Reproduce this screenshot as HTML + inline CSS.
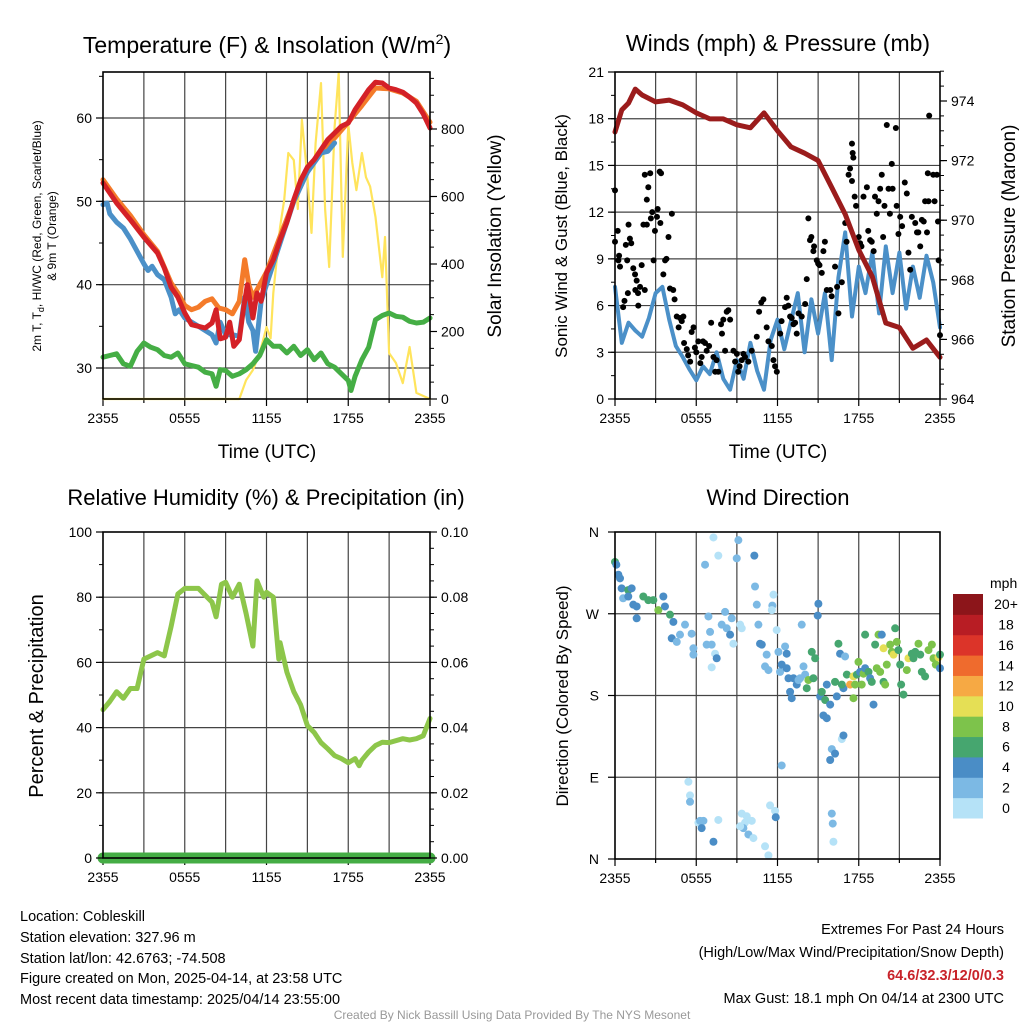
<!DOCTYPE html>
<html><head><meta charset="utf-8"><style>
html,body{margin:0;padding:0;background:#fff;}
svg{display:block;font-family:"Liberation Sans",Arial,sans-serif;}
</style></head><body>
<svg id="chart" width="1024" height="1024" viewBox="0 0 1024 1024" xmlns="http://www.w3.org/2000/svg">
<g id="p1"></g>
<g id="p2"></g>
<g id="p3"></g>
<g id="p4"></g>
<g id="txt">
<text x="267" y="53" font-size="23" text-anchor="middle">Temperature (F) &amp; Insolation (W/m<tspan dy="-9" font-size="14">2</tspan><tspan dy="9">)</tspan></text>
<text x="778" y="51" font-size="23" text-anchor="middle">Winds (mph) &amp; Pressure (mb)</text>
<text x="266" y="505" font-size="22" text-anchor="middle">Relative Humidity (%) &amp; Precipitation (in)</text>
<text x="778" y="505" font-size="22" text-anchor="middle">Wind Direction</text>
<text x="267" y="458" font-size="19" text-anchor="middle">Time (UTC)</text>
<text x="778" y="458" font-size="19" text-anchor="middle">Time (UTC)</text>
<text transform="translate(41,236) rotate(-90)" font-size="12" text-anchor="middle">2m T, T<tspan dy="3" font-size="9">d</tspan><tspan dy="-3">, HI/WC (Red, Green, Scarlet/Blue)</tspan></text>
<text transform="translate(56,236) rotate(-90)" font-size="12" text-anchor="middle">&amp; 9m T (Orange)</text>
<text transform="translate(501,236) rotate(-90)" font-size="19" text-anchor="middle">Solar Insolation (Yellow)</text>
<text transform="translate(567,236) rotate(-90)" font-size="17" text-anchor="middle">Sonic Wind &amp; Gust (Blue, Black)</text>
<text transform="translate(1015,236) rotate(-90)" font-size="19" text-anchor="middle">Station Pressure (Maroon)</text>
<text transform="translate(43,696) rotate(-90)" font-size="20" text-anchor="middle">Percent &amp; Precipitation</text>
<text transform="translate(568,696) rotate(-90)" font-size="17" text-anchor="middle">Direction (Colored By Speed)</text>
<g font-size="14.5">
<text x="20" y="921">Location: Cobleskill</text>
<text x="20" y="942">Station elevation: 327.96 m</text>
<text x="20" y="963">Station lat/lon: 42.6763; -74.508</text>
<text x="20" y="983">Figure created on Mon, 2025-04-14, at 23:58 UTC</text>
<text x="20" y="1004">Most recent data timestamp: 2025/04/14 23:55:00</text>
</g>
<g font-size="14.5" text-anchor="end">
<text x="1004" y="934">Extremes For Past 24 Hours</text>
<text x="1004" y="957">(High/Low/Max Wind/Precipitation/Snow Depth)</text>
<text x="1004" y="980" fill="#c8232a" font-weight="bold">64.6/32.3/12/0/0.3</text>
<text x="1004" y="1003">Max Gust: 18.1 mph On 04/14 at 2300 UTC</text>
</g>
<text x="512" y="1019" font-size="12" fill="#999" text-anchor="middle">Created By Nick Bassill Using Data Provided By The NYS Mesonet</text>
</g>
</svg>
<script>
// ---------- DATA ----------
const xTickLabels = ["2355","0555","1155","1755","2355"];
const tempTicks = [30,40,50,60];
const insolTicks = [0,200,400,600,800];
const windTicks = [0,3,6,9,12,15,18,21];
const presTicks = [964,966,968,970,972,974];
const rhTicks = [0,20,40,60,80,100];
const precipTicks = ["0.00","0.02","0.04","0.06","0.08","0.10"];
const dirTickLabels = ["N","E","S","W","N"];
const speedBinLabels = ["0","2","4","6","8","10","12","14","16","18","20+"];
const speedBinColors = ["#b5e2f7","#7cb9e4","#4a8dc6","#46a66f","#7dc34b","#e5df55","#f6a944","#ef6b2d","#dc3429","#b81d24","#8c151a"];

const tempTimes = [0,0.5,1,2,3,4,4.5,5,5.5,6,6.5,7,7.5,8,8.3,8.6,9,9.3,9.6,10,10.3,10.6,10.8,11,11.3,11.6,12,12.5,13,13.5,14,14.5,15,15.5,16,16.5,17,17.5,18,18.5,19,19.5,20,20.5,21,21.5,22,22.5,23,23.5,24];
const tempVals = [52.2,51,49.8,47.8,45.7,43.8,42,39.7,38.5,36.6,35.2,35,34.8,35.4,37,33.5,33.7,35.5,32.6,33.4,37,40,38,36,39,38,41.4,43,45.4,47.5,50.2,52.5,54.1,55,56.2,57.4,58.2,59,59.4,61,62.2,63.4,64.3,64.2,63.6,63.4,63.1,62.5,61.8,60.5,58.8];
const t9mTimes = [0,1,2,3,4,5,5.5,6,6.5,7,7.5,8,8.5,9,9.5,10,10.4,10.7,11,11.5,12,13,14,15,16,17,18,19,20,21,22,23,24];
const t9mVals = [52.6,50.3,48.3,46,44,40.2,39,37.5,37,37.3,38,38.3,37.2,37,36.5,38,43,40,38.5,40,41.5,45.8,50,53.6,55.8,57.6,59.5,61.5,63.6,63.5,63,62,59.5];
const wcTimes = [0,0.3,0.5,1,1.5,2,2.5,3,3.3,3.6,4,4.5,5,5.3,5.6,6,7,8,8.3,8.6,9,9.5,10,10.4,10.7,11,11.2,11.6,12,12.5,13,14,15,16,16.5,17];
const wcVals = [49.6,49.8,48.5,47.5,46.8,45.5,44,42.5,41.7,42.2,41.2,40.6,38.5,36.5,37,36,35,34,33,35.5,34,34,33.8,38.5,35.5,34.5,32,38,40,42.5,45,50,53.5,55.8,56,57];
const dewTimes = [0,0.5,1,1.5,2,2.5,3,3.5,4,4.5,5,5.5,6,6.5,7,7.5,8,8.3,8.6,9,9.5,10,10.5,11,11.5,12,12.5,13,13.5,14,14.5,15,15.5,16,16.5,17,17.5,18,18.2,18.5,19,19.5,20,20.5,21,21.5,22,22.5,23,23.5,24];
const dewVals = [31.3,31.5,31.7,30.5,30.2,32,33,32.5,32.2,31.5,31.3,31.8,30.5,30.3,30.1,29.5,29.3,27.8,29.8,29.7,29,29.3,29.8,30.5,31.5,33.4,32.6,32.6,31.8,32.6,31.5,32.2,31,31.8,30.5,30.1,29.3,28.5,27.3,29,31,32.5,35.8,36.3,36.6,36.2,36.1,35.6,35.4,35.5,36];
const solTimes = [0,10,10.5,11,11.5,12,12.3,12.5,13,13.3,13.6,14,14.3,14.6,15,15.3,15.6,16,16.3,16.6,17,17.3,17.6,18,18.3,18.6,19,19.3,19.6,20,20.5,20.7,21,21.5,22,22.5,23,24];
const solVals = [0,0,56,86,136,213,180,314,510,590,729,708,563,827,657,492,758,936,563,391,806,966,421,813,700,619,729,657,630,539,361,480,136,107,47,154,18,0];

const presTimes = [0,0.5,1,1.5,2,3,4,5,6,7,8,9,10,11,12,13,14,15,16,17,18,19,20,21,22,23,24];
const presVals = [972.96,973.7,973.93,974.4,974.2,973.97,974.03,973.87,973.6,973.4,973.4,973.2,973.1,973.6,973.0,972.46,972.25,972.0,971.1,970.2,969.0,968.1,966.55,966.4,965.7,965.98,965.4];
const windTimes = [0,0.5,1,1.5,2,2.5,3,3.5,4,4.5,5,5.5,6,6.5,7,7.5,8,8.5,9,9.5,10,10.5,11,11.5,12,12.5,13,13.5,14,14.5,15,15.5,16,16.5,17,17.5,18,18.5,19,19.5,20,20.5,21,21.5,22,22.5,23,23.5,24];
const windVals = [7.2,3.6,4.9,4.4,4,5.2,6.8,7.2,5.1,3.4,2.7,1.9,1.2,2.1,1.6,3,1.3,0.6,2.5,1.3,3.6,1.8,0.6,3.8,5.1,3.2,5,6.8,3,6.4,4.2,6.8,2.5,7.8,10.7,5.3,8.5,6.8,9.4,5.5,9.8,6.8,9.4,5.8,8.5,6.5,9.2,7.5,4.6];
const gustTimes = [0,0,0.2,0.25,0.3,0.37,0.6,0.7,0.8,0.9,1.0,1.1,1.2,0.95,1.35,1.48,1.5,1.6,1.7,1.72,1.85,1.97,2.1,2.2,2.2,2.35,2.46,2.35,2.6,2.65,2.75,2.85,2.95,3.1,3.15,3.3,3.35,3.4,3.57,3.7,3.8,3.95,4.06,4.2,4.3,4.4,4.56,4.7,4.8,4.93,5.05,5.1,5.3,5.4,5.55,5.66,5.8,5.9,6.0,6.15,6.3,6.4,6.5,6.65,6.77,6.95,7.1,7.27,7.4,7.5,7.63,7.83,7.9,8.0,8.13,8.25,8.37,8.5,8.75,8.87,9.0,9.1,9.2,9.36,9.48,9.6,9.85,10.1,10.47,10.64,10.8,10.96,11.2,11.33,11.58,11.7,11.82,11.95,12.2,12.3,12.56,12.68,12.8,12.93,13.05,13.18,13.3,13.42,13.55,13.79,14.04,14.16,14.28,14.4,14.5,14.65,14.7,14.9,15.0,15.1,15.27,15.39,15.5,15.64,15.9,16,16.25,16.4,16.5,16.75,17,17.1,17.25,17.36,17.5,17.55,17.6,17.5,17.7,17.8,18.0,18.1,18.2,18.35,18.6,18.7,18.84,18.96,19.1,19.2,19.33,19.46,19.58,19.7,19.8,19.9,20.07,20.2,20.3,20.44,20.5,20.74,20.8,20.93,21.06,21.2,21.4,21.55,21.67,21.8,21.92,22.17,22.3,22.4,22.54,22.66,22.8,22.9,23.04,23.1,23.15,23.2,23.5,23.6,23.77,23.85,23.9,24];
const gustVals = [13.4,10.1,10.8,8.9,9.2,8.5,5.9,6.3,9.9,8.9,11.2,10.3,10,6.8,8.4,8,7,7.6,6.8,6,7.2,8.6,11.2,7,14.4,11.2,13.6,12.8,14.5,11.6,12,8.9,10.8,11.7,12.2,14.6,11.3,14.5,8,8.9,9,10.4,7.1,11.9,7,6.4,5.3,4.6,5.2,5,5.3,3.6,3.2,2.8,2.4,4.3,4.6,3.3,3,3.7,2.3,2.7,3.7,3.6,3.1,3.4,4.9,2.7,1.75,2.5,1.75,4.8,4.2,5.1,3.1,5.6,5.7,5.1,3.1,2.4,2.9,1.75,2.1,2.5,2.9,2.7,2.4,3.1,4,5.6,6.2,6.4,4.6,3.7,3.4,2.5,2.1,1.75,4.2,5,5.9,6.5,6,5.3,5.2,4.8,4.9,4.2,5.5,5.3,6.1,7.7,11.6,10.2,10.4,9.5,9.8,8.9,8.7,8.6,8.1,9.5,10.1,7,7,6.6,8.5,7.2,5.5,7.5,11.3,10.1,14.4,14.8,16.4,15.8,15.5,14,13,12.4,10.4,10,9.8,13,13.6,10.8,10.2,10.1,9.5,13,11.9,12.7,13.5,14.4,10.4,12.4,17.6,13.5,11.9,15.1,13.5,17.4,12.4,10.6,11.7,11.1,13.9,13.2,9.4,8.3,11.7,11.3,10.7,10.7,9.8,11.5,11.4,12.7,10.7,14.5,12.7,18.2,14.4,12.7,14.4,11.4,8.9,4.1];

const rhTimes = [0,0.5,1,1.5,2,2.5,3,4,4.5,5,5.5,6,7,8,8.3,8.7,9,9.5,10,10.5,11,11.3,11.8,12,12.5,12.9,13,13.5,14,14.5,15,15.5,16,16.5,17,17.5,18,18.5,18.8,19,19.5,20,20.5,21,22,22.5,23,23.5,24];
const rhVals = [45.5,48,51,49,52,52,61,63,62,71,81,82.7,82.7,78.5,74,84,84.6,80,84,75,65,85,80,81.5,80,61,66,57,51,47,40.6,38.5,35.4,33.5,31.4,30.5,29.2,30.5,28.3,30,32.5,34.5,35.5,35.4,36.6,36.2,36.6,37.5,42.8];
const precipTimes = [0,24];
const precipVals = [0,0];

const dirTimes = [0,0.1,0.25,0.37,0.49,0.6,0.98,1.23,0.98,1.35,1.6,1.6,2.09,2.46,2.83,3.2,3.57,3.69,4.06,4.31,4.19,4.56,4.8,5.17,5.66,5.79,5.79,6.65,6.9,7.02,6.77,7.14,7.39,7.14,7.27,7.63,7.88,8.13,8.25,8.5,8.74,8.62,9.11,8.99,9.24,9.36,10.29,10.34,10.47,10.59,10.71,10.84,11.2,11.08,11.33,11.7,11.62,11.58,11.94,12.07,12.19,12.31,12.56,12.68,12.68,12.81,12.93,13.05,13.18,13.42,13.55,13.67,13.92,14.04,13.79,14.28,14.65,14.53,14.78,14.16,15.02,14.97,15.15,15.27,15.52,15.64,15.39,15.64,15.89,16.25,16.38,16.5,16.62,16.87,16.99,16.75,17.12,17.36,17.61,17.61,17.73,17.98,17.86,18.1,18.22,18.35,18.47,18.47,18.72,18.84,18.96,19.09,19.21,19.33,19.46,19.58,19.7,19.83,19.83,19.95,20.07,20.32,20.44,20.57,20.69,20.81,20.93,21.06,21.13,21.3,21.55,21.67,21.92,22.04,22.17,22.41,22.54,22.66,22.9,23.15,23.4,23.52,23.69,23.89,24,24,
7.51,16.75,16.87,16.01,16.25,15.89,12.31,5.42,5.54,5.54,6.16,6.53,6.28,6.4,7.27,7.63,9.36,9.6,10.1,9.73,9.48,9.85,10.22,11.08,11.33,11.82,11.87,11.45,9.24,16.13,16.01,16.08];
const dirVals = [327,324,313,309,298,287,296,298,289,280,278,265,289,285,285,274,289,278,269,261,243,239,247,258,248,232,225,324,267,250,236,236,226,211,354,334,258,272,254,247,237,265,351,331,258,254,334,300,280,258,237,236,225,212,208,291,279,274,252,228,206,214,234,226,210,199,184,177,199,192,197,199,212,203,258,197,199,228,221,188,281,268,179,184,175,192,158,155,170,195,179,237,226,188,223,192,203,192,201,177,192,217,203,206,192,204,247,210,206,199,195,170,236,210,247,206,247,232,195,192,214,236,228,225,254,239,230,214,192,181,208,221,226,221,228,237,225,206,201,230,236,221,214,222,225,210,221,
132,136,121,116,109,103,85,70,63,40,42,42,34,19,43,50,40,42,47,34,27,23,14,4,53,46,59,36,19,50,39,22];
const dirSpeeds = [7,5,5,5,5,3,7,5,5,5,5,5,7,7,7,9,5,5,7,5,5,3,3,3,3,3,3,3,3,3,3,3,1,1,1,1,3,3,3,5,1,3,3,3,1,1,5,3,3,3,5,5,3,3,3,1,3,1,1,3,3,5,3,5,5,5,5,5,5,5,3,3,3,3,3,9,7,7,7,7,5,5,5,7,7,5,5,5,5,7,5,7,5,5,3,7,7,13,11,9,9,9,7,5,9,9,7,5,7,5,7,5,7,9,9,9,5,11,7,9,9,9,9,11,7,9,7,7,7,7,9,11,7,7,7,9,7,7,7,9,9,9,9,11,7,5,5,
1,5,3,5,5,3,1,1,3,1,3,3,5,5,1,1,1,1,1,3,3,1,1,1,1,5,1,1,1,3,3,3];

// ---------- HELPERS ----------
const NS = "http://www.w3.org/2000/svg";
function mk(parent, tag, attrs) { const e = document.createElementNS(NS, tag); for (const k in attrs) e.setAttribute(k, attrs[k]); parent.appendChild(e); return e; }
function lin(d0, d1, r0, r1) { return v => r0 + (v - d0) / (d1 - d0) * (r1 - r0); }
function polyline(g, xs, ys, sx, sy, color, w, name) {
  let d = "";
  for (let i = 0; i < xs.length; i++) d += (i ? "L" : "M") + sx(xs[i]).toFixed(1) + "," + sy(ys[i]).toFixed(1);
  const p = mk(g, "path", { d: d, fill: "none", stroke: color, "stroke-width": w, "stroke-linejoin": "round", "stroke-linecap": "round" });
  
  
  return p;
}
function frame(g, L, T, R, B, cfg) {
  const sx = lin(0, 24, L, R);
  for (let h = 3; h < 24; h += 3) {
    const l = mk(g, "line", { x1: sx(h), x2: sx(h), y1: T, y2: B, stroke: "#444", "stroke-width": 1.2 });
    
    
  }
  cfg.hgrid.forEach(y => {
    const l = mk(g, "line", { x1: L, x2: R, y1: y, y2: y, stroke: "#444", "stroke-width": 1.2 });
    
    
  });
  for (let h = 0; h <= 24; h += 3) {
    const l = mk(g, "line", { x1: sx(h), x2: sx(h), y1: B, y2: B + (h % 6 === 0 ? 7 : 4), stroke: "#000", "stroke-width": 1.2 });
    
    
  }
  xTickLabels.forEach((lab, i) => {
    const t = mk(g, "text", { x: sx(i * 6), y: B + 24, "font-size": 14, "text-anchor": "middle" });
    t.textContent = lab;
    
    
  });
  return sx;
}
function border(g, L, T, R, B) {
  const r = mk(g, "rect", { x: L, y: T, width: R - L, height: B - T, fill: "none", stroke: "#000", "stroke-width": 1.6 });
  
  
}
function yAxis(g, x, side, ticks, labels, sy, minors) {
  const dir = side === "left" ? -1 : 1;
  minors.forEach(v => {
    const l = mk(g, "line", { x1: x, x2: x + dir * 4, y1: sy(v), y2: sy(v), stroke: "#000", "stroke-width": 1 });
    
    
  });
  ticks.forEach((v, i) => {
    const l = mk(g, "line", { x1: x, x2: x + dir * 7, y1: sy(v), y2: sy(v), stroke: "#000", "stroke-width": 1.2 });
    
    
    const t = mk(g, "text", { x: x + dir * 11, y: sy(v) + 5, "font-size": 14, "text-anchor": side === "left" ? "end" : "start" });
    t.textContent = labels[i];
    
    
  });
}
function range(a, b, s) { const r = []; for (let v = a; v <= b + 1e-9; v += s) r.push(+v.toFixed(4)); return r; }

// ---------- PANEL 1 ----------
(function () {
  const g = document.getElementById("p1");
  const L = 103, T = 72, R = 430, B = 399;
  const sy = lin(30, 60, 368, 118), sr = lin(0, 800, 399, 129);
  const sx = frame(g, L, T, R, B, { hgrid: tempTicks.map(sy) });
  polyline(g, solTimes, solVals, sx, sr, "#ffe45c", 2.2, "insolation-line");
  polyline(g, dewTimes, dewVals, sx, sy, "#45ae45", 5, "dewpoint-line");
  polyline(g, t9mTimes, t9mVals, sx, sy, "#f47b2a", 5, "temp-9m-line");
  polyline(g, wcTimes, wcVals, sx, sy, "#4b90c8", 5, "wind-chill-line");
  polyline(g, tempTimes, tempVals, sx, sy, "#d42127", 5, "temp-2m-line");
  border(g, L, T, R, B);
  yAxis(g, L, "left", tempTicks, tempTicks.map(String), sy, range(30, 65, 5));
  yAxis(g, R, "right", insolTicks, insolTicks.map(String), sr, range(0, 950, 50));
})();

// ---------- PANEL 2 ----------
(function () {
  const g = document.getElementById("p2");
  const L = 615, T = 72, R = 940, B = 399;
  const sy = lin(0, 21, 399, 72), sp = lin(964, 974, 399, 101);
  const sx = frame(g, L, T, R, B, { hgrid: windTicks.slice(1, -1).map(sy) });
  polyline(g, windTimes, windVals, sx, sy, "#4b90c8", 4, "sonic-wind-line");
  gustTimes.forEach((t, i) => {
    const c = mk(g, "circle", { cx: sx(t), cy: sy(gustVals[i]), r: 3, fill: "#000" });
    
    
  });
  polyline(g, presTimes, presVals, sx, sp, "#9b1c1c", 5, "pressure-line");
  border(g, L, T, R, B);
  yAxis(g, L, "left", windTicks, windTicks.map(String), sy, range(0, 21, 1.5));
  yAxis(g, R, "right", presTicks, presTicks.map(String), sp, range(964, 975, 0.5));
})();

// ---------- PANEL 3 ----------
(function () {
  const g = document.getElementById("p3");
  const L = 103, T = 532, R = 430, B = 858;
  const sy = lin(0, 100, 858, 532), sp = lin(0, 0.1, 858, 532);
  const sx = frame(g, L, T, R, B, { hgrid: [20, 40, 60, 80].map(sy) });
  polyline(g, rhTimes, rhVals, sx, sy, "#8dc64a", 5, "humidity-line");
  polyline(g, precipTimes, precipVals, sx, sp, "#45ad45", 11, "precipitation-line");
  border(g, L, T, R, B);
  yAxis(g, L, "left", rhTicks, rhTicks.map(String), sy, range(0, 100, 10));
  yAxis(g, R, "right", [0, 0.02, 0.04, 0.06, 0.08, 0.1], precipTicks, sp, range(0, 0.1, 0.005));
})();

// ---------- PANEL 4 ----------
(function () {
  const g = document.getElementById("p4");
  const L = 615, T = 532, R = 940, B = 859;
  const sy = lin(0, 360, 859, 532);
  const sx = frame(g, L, T, R, B, { hgrid: [90, 180, 270].map(sy) });
  dirTimes.forEach((t, i) => {
    const bin = Math.min(10, Math.floor(dirSpeeds[i] / 2));
    const c = mk(g, "circle", { cx: sx(t), cy: sy(dirVals[i]), r: 4, fill: speedBinColors[bin] });
    
    
  });
  border(g, L, T, R, B);
  [0, 90, 180, 270, 360].forEach((v, i) => {
    const l = mk(g, "line", { x1: L, x2: L - 7, y1: sy(v), y2: sy(v), stroke: "#000", "stroke-width": 1.2 });
    
    
    const t = mk(g, "text", { x: L - 16, y: sy(v) + 5, "font-size": 14, "text-anchor": "end" });
    t.textContent = dirTickLabels[i];
    
    
  });
  const cbT = 594, cbB = 818, cbL = 953, cbW = 30, bh = (cbB - cbT) / 11;
  const u = mk(g, "text", { x: 990, y: 588, "font-size": 14 });
  u.textContent = "mph";
  
  
  speedBinColors.forEach((col, i) => {
    const y = cbB - (i + 1) * bh;
    const r = mk(g, "rect", { x: cbL, y: y, width: cbW, height: bh + 0.5, fill: col });
    
    
    const t = mk(g, "text", { x: 1006, y: y + bh / 2 + 5, "font-size": 14, "text-anchor": "middle" });
    t.textContent = speedBinLabels[i];
    
    
  });
})();
</script>
</body></html>
